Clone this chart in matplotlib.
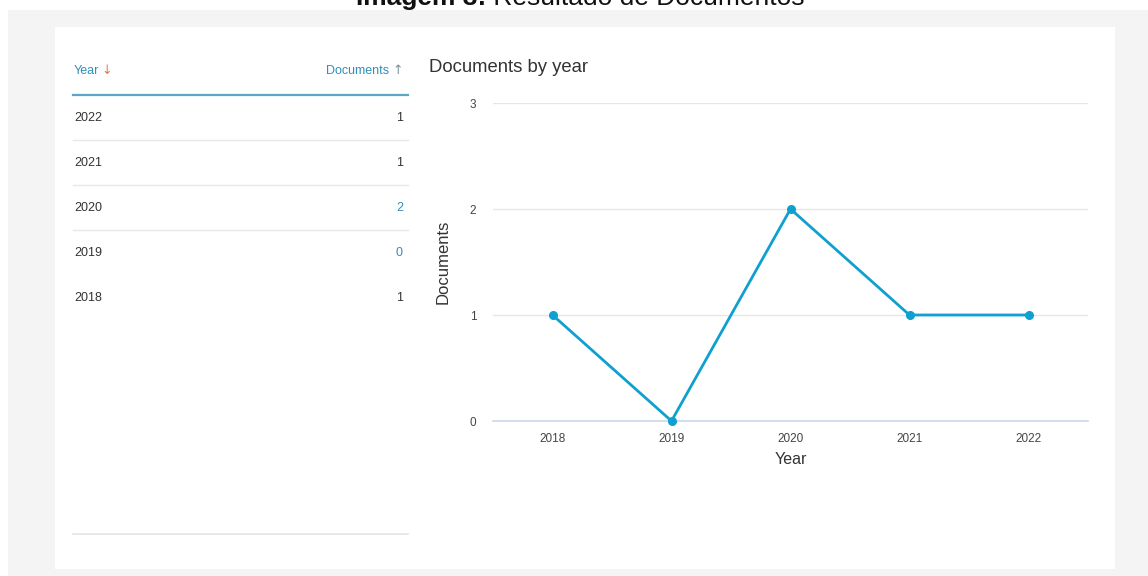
import matplotlib
matplotlib.use("Agg")
import matplotlib.pyplot as plt
from matplotlib.patches import Rectangle
from matplotlib.lines import Line2D

years = [2018, 2019, 2020, 2021, 2022]
documents = [1, 0, 2, 1, 1]
table_years = [2022, 2021, 2020, 2019, 2018]
table_docs = [1, 1, 2, 0, 1]
yticks = [0, 1, 2, 3]

W, H = 1148, 576
fig = plt.figure(figsize=(W / 100, H / 100), dpi=100)
fig.patch.set_facecolor("white")
plt.rcParams["font.family"] = ["Liberation Sans", "DejaVu Sans"]

def fx(x):
    return x / W

def fy(y):
    return 1 - y / H

# Backgrounds
fig.patches.append(Rectangle((fx(8), 0), 1 - fx(8), fy(10), transform=fig.transFigure,
                             facecolor="#f4f4f4", edgecolor="none", zorder=-2))
fig.patches.append(Rectangle((fx(55), fy(569)), fx(1115 - 55), fy(27) - fy(569),
                             transform=fig.transFigure, facecolor="white",
                             edgecolor="none", zorder=-1))

# Clipped document caption at very top
fig.text(fx(486), fy(5), "Imagem 3:", fontsize=19, fontweight="bold", color="#111111",
         ha="right", va="baseline")
fig.text(fx(486), fy(5), " Resultado de Documentos", fontsize=19, color="#111111",
         ha="left", va="baseline")

# Table
teal = "#2f8fb8"
fig.text(fx(74), fy(71), "Year", fontsize=9, color=teal, ha="left", va="center")
fig.text(fx(101), fy(71), "↓", fontsize=9, color="#e8764f", ha="left", va="center",
         family=["DejaVu Sans"])
fig.text(fx(389), fy(71), "Documents", fontsize=9, color=teal, ha="right", va="center")
fig.text(fx(403), fy(71), "↑", fontsize=9, color="#7f8f99", ha="right", va="center",
         family=["DejaVu Sans"])
fig.add_artist(Line2D([fx(73), fx(408)], [fy(95), fy(95)], transform=fig.transFigure,
                      color="#5aa6c3", lw=1.6))
row_y = [118, 163, 208, 253, 298]
for i, (yr, d) in enumerate(zip(table_years, table_docs)):
    fig.text(fx(74), fy(row_y[i]), str(yr), fontsize=9, color="#333333",
             ha="left", va="center")
    col = teal if d in (0, 2) else "#333333"
    fig.text(fx(403), fy(row_y[i]), str(d), fontsize=9, color=col,
             ha="right", va="center")
for ly in [140, 185, 230]:
    fig.add_artist(Line2D([fx(73), fx(408)], [fy(ly), fy(ly)], transform=fig.transFigure,
                          color="#e8e8e8", lw=1))
fig.add_artist(Line2D([fx(73), fx(408)], [fy(534), fy(534)], transform=fig.transFigure,
                      color="#e4e4e4", lw=1.2))

# Chart
ax = fig.add_axes([fx(493), fy(421), fx(1088 - 493), fy(103) - fy(421)])
ax.set_facecolor("none")
ax.plot(years, documents, color="#0fa0d0", lw=2, marker="o", markersize=5.5,
        clip_on=False, zorder=3)
ax.set_xlim(2017.5, 2022.5)
ax.set_ylim(0, 3)
ax.set_xticks(years)
ax.set_xticklabels([str(y) for y in years])
ax.set_yticks(yticks)
ax.grid(axis="y", color="#e6e6e6", lw=1)
ax.grid(axis="x", visible=False)
for s in ["top", "right", "left"]:
    ax.spines[s].set_visible(False)
ax.spines["bottom"].set_color("#ccd6eb")
ax.spines["bottom"].set_linewidth(1.2)
ax.tick_params(axis="both", length=0, labelsize=8.5, labelcolor="#444444")
ax.tick_params(axis="x", pad=9)
ax.tick_params(axis="y", pad=12)
ax.set_xlabel("Year", fontsize=11.5, color="#333333", labelpad=5)
ax.set_ylabel("Documents", fontsize=12, color="#333333", labelpad=14)
fig.text(fx(429), fy(67), "Documents by year", fontsize=13.3, color="#333333",
         ha="left", va="center")

fig.savefig("out.png", dpi=100)
